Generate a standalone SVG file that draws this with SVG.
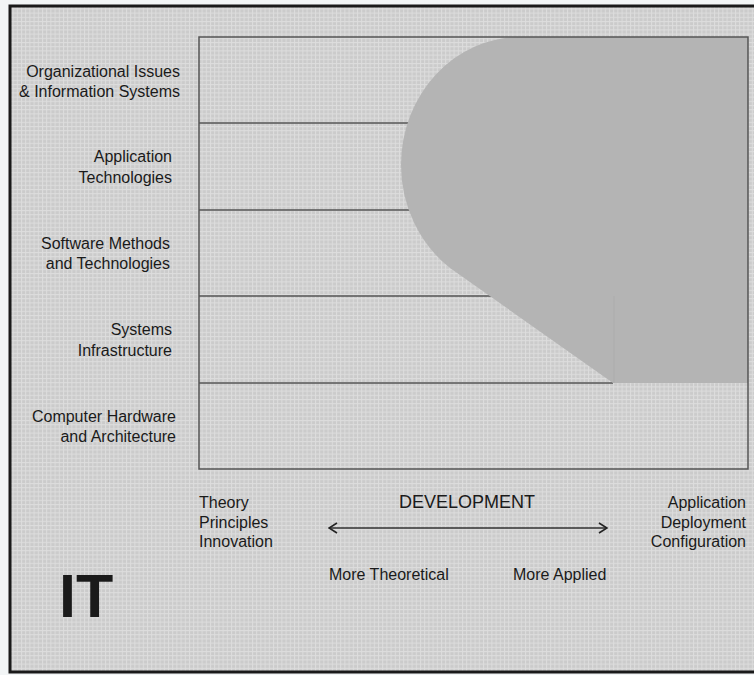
<svg xmlns="http://www.w3.org/2000/svg" width="754" height="675" viewBox="0 0 754 675">
  <defs>
    <pattern id="grid" width="4.2" height="4.2" patternUnits="userSpaceOnUse">
      <rect width="4.2" height="4.2" fill="#cbcbcb"/>
      <path d="M0 0.5 H4.2 M0.5 0 V4.2" stroke="#dddddd" stroke-width="1"/>
    </pattern>
    <marker id="chev" viewBox="0 0 10 12" refX="9" refY="6" markerWidth="10" markerHeight="12" markerUnits="userSpaceOnUse" orient="auto-start-reverse">
      <path d="M1 1 L9 6 L1 11" fill="none" stroke="#222" stroke-width="1.6"/>
    </marker>
  </defs>
  <style>
    text { font-family: "Liberation Sans", Arial, sans-serif; fill: #1a1a1a; }
    .lbl { font-size: 16px; text-anchor: end; }
    .small { font-size: 16px; }
    .rule { stroke: #555; stroke-width: 1.5; fill: none; }
  </style>

  <rect x="0" y="0" width="754" height="675" fill="#f2f5f6"/>
  <rect x="10" y="6" width="760" height="666" fill="url(#grid)" stroke="#1a1a1a" stroke-width="3"/>

  <g id="bands">
    <line class="rule" x1="199" y1="123" x2="500" y2="123"/>
    <line class="rule" x1="199" y1="210" x2="500" y2="210"/>
    <line class="rule" x1="199" y1="296" x2="540" y2="296"/>
    <line class="rule" x1="199" y1="383" x2="613" y2="383"/>
  </g>

  <g id="applied-region">
    <path d="M748 37 L520 37 A119 128 0 0 0 401 165 A119 128 0 0 0 450 268 L613 383 L748 383 Z" fill="#b4b4b4"/>
    <line x1="614" y1="296" x2="614" y2="383" stroke="#a8a8a8" stroke-width="0.6"/>
  </g>

  <rect id="frame" x="199" y="37" width="549" height="432" fill="none" stroke="#555" stroke-width="1.5"/>

  <g id="org-issues">
    <text class="lbl" x="180" y="77">Organizational Issues</text>
    <text class="lbl" x="180" y="97">&amp; Information Systems</text>
  </g>
  <g id="app-tech">
    <text class="lbl" x="172" y="162">Application</text>
    <text class="lbl" x="172" y="183">Technologies</text>
  </g>
  <g id="software-methods">
    <text class="lbl" x="170" y="249">Software Methods</text>
    <text class="lbl" x="170" y="269">and Technologies</text>
  </g>
  <g id="systems-infra">
    <text class="lbl" x="172" y="335">Systems</text>
    <text class="lbl" x="172" y="356">Infrastructure</text>
  </g>
  <g id="hardware">
    <text class="lbl" x="176" y="422">Computer Hardware</text>
    <text class="lbl" x="176" y="442">and Architecture</text>
  </g>

  <g id="theory">
    <text class="small" x="199" y="508">Theory</text>
    <text class="small" x="199" y="528">Principles</text>
    <text class="small" x="199" y="547">Innovation</text>
  </g>
  <g id="application-end">
    <text class="lbl" x="746" y="508">Application</text>
    <text class="lbl" x="746" y="528">Deployment</text>
    <text class="lbl" x="746" y="547">Configuration</text>
  </g>
  <g id="development">
    <text x="467" y="508" font-size="18" text-anchor="middle">DEVELOPMENT</text>
  </g>
  <g id="connectors">
    <line x1="329" y1="528" x2="607" y2="528" stroke="#333" stroke-width="1.6" marker-start="url(#chev)" marker-end="url(#chev)"/>
  </g>
  <g id="scale-labels">
    <text class="small" x="329" y="580">More Theoretical</text>
    <text class="small" x="513" y="580">More Applied</text>
  </g>
  <g id="it-label">
    <text x="59" y="617" font-size="61" font-weight="bold" fill="#000">IT</text>
  </g>
</svg>
